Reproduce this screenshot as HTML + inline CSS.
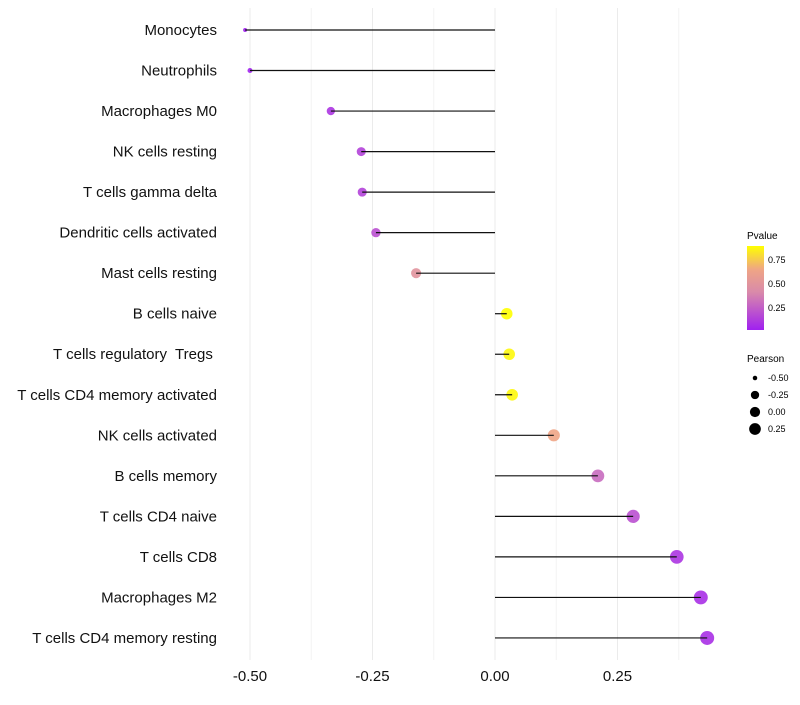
<!DOCTYPE html>
<html><head><meta charset="utf-8"><style>
body{margin:0;background:#fff;font-family:"Liberation Sans",sans-serif}
</style></head><body>
<svg id="chart" width="800" height="700" xmlns="http://www.w3.org/2000/svg" font-family="Liberation Sans, sans-serif">
<defs><linearGradient id="pgrad" x1="0" y1="1" x2="0" y2="0">
<stop offset="0" stop-color="#A020F0"/><stop offset="0.45" stop-color="#D98AAA"/><stop offset="0.72" stop-color="#EFA585"/><stop offset="1" stop-color="#FFFF00"/></linearGradient></defs>
<g id="grid"></g>
<g id="dots"></g>
<g id="marks"></g>
<g id="ylabels"></g>
<g id="xlabels"></g>
<g>
<text x="747" y="239" font-size="10">Pvalue</text>
<rect x="747" y="246" width="17" height="84" fill="url(#pgrad)"/>
<text x="768" y="263" font-size="9">0.75</text>
<text x="768" y="287" font-size="9">0.50</text>
<text x="768" y="311" font-size="9">0.25</text>
</g>
<g id="sizeleg">
<text x="747" y="362" font-size="10">Pearson</text>
</g>
</svg>
<script>
const categories=["Monocytes","Neutrophils","Macrophages M0","NK cells resting","T cells gamma delta","Dendritic cells activated","Mast cells resting","B cells naive","T cells regulatory\u00a0 Tregs\u00a0","T cells CD4 memory activated","NK cells activated","B cells memory","T cells CD4 naive","T cells CD8","Macrophages M2","T cells CD4 memory resting"];
const pearson=[-0.510,-0.500,-0.335,-0.273,-0.271,-0.243,-0.161,0.024,0.029,0.035,0.120,0.210,0.282,0.371,0.420,0.433];
const pvalue=[0.02,0.03,0.10,0.15,0.15,0.20,0.50,0.90,0.88,0.88,0.65,0.30,0.20,0.10,0.08,0.08];
const xTicks=[-0.5,-0.25,0,0.25];
const xTickLabels=["-0.50","-0.25","0.00","0.25"];
const sizeLegendVals=[-0.5,-0.25,0,0.25];
const sizeLegendLabels=["-0.50","-0.25","0.00","0.25"];
const NS="http://www.w3.org/2000/svg";
const x=v=>495+v*490;
const y=i=>30+i*40.53;
const smin=-0.51,smax=0.433;
const r=v=>2+5*Math.sqrt(Math.max(0,(v-smin)/(smax-smin)));
function col(p){let t=Math.min(1,Math.max(0,(p-0.02)/0.88));
const st=[[0,[160,32,240]],[0.45,[217,138,170]],[0.72,[239,165,133]],[1,[255,255,0]]];
let k=0;while(k<st.length-2&&t>st[k+1][0])k++;
const [t0,a]=st[k],[t1,b]=st[k+1];const u=(t-t0)/(t1-t0);
return `rgb(${a.map((q,j)=>Math.round(q+(b[j]-q)*u)).join(',')})`;}
function el(tag,attrs,parent){const e=document.createElementNS(NS,tag);for(const k in attrs)e.setAttribute(k,attrs[k]);parent.appendChild(e);return e;}
const grid=document.getElementById('grid'),marks=document.getElementById('marks'),dots=document.getElementById('dots'),yl=document.getElementById('ylabels'),xl=document.getElementById('xlabels'),sl=document.getElementById('sizeleg');
for(let v=-0.5;v<=0.3751;v+=0.125){const g=el('line',{x1:x(v),x2:x(v),y1:8,y2:660,stroke:Math.abs(v*4-Math.round(v*4))<1e-6?'#ebebeb':'#f4f4f4','stroke-width':1},grid);

}
categories.forEach((c,i)=>{
const d=el('circle',{cx:x(pearson[i]),cy:y(i),r:r(pearson[i]),fill:col(pvalue[i]),'fill-opacity':0.9},dots);


const ln=el('line',{x1:x(0),x2:x(pearson[i]),y1:y(i),y2:y(i),stroke:'#111','stroke-width':1.2},marks);


const t=el('text',{x:217,y:y(i)+5,'text-anchor':'end','font-size':15,fill:'#111'},yl);t.textContent=c;


});
xTicks.forEach((v,i)=>{const t=el('text',{x:x(v),y:681,'text-anchor':'middle','font-size':15,fill:'#111'},xl);t.textContent=xTickLabels[i];

});
sizeLegendVals.forEach((v,i)=>{const cy=378+i*17;
const c=el('circle',{cx:755,cy:cy,r:r(v)*0.9,fill:'#000'},sl);


const t=el('text',{x:768,y:cy+3,'font-size':9},sl);t.textContent=sizeLegendLabels[i];

});
</script>
</body></html>
